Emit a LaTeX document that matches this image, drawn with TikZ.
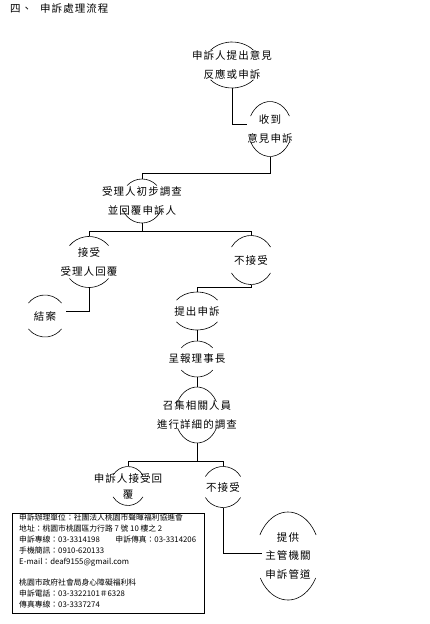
\documentclass[tikz,border=0pt]{standalone}
\usepackage{fontspec}
\setmainfont{Noto Sans CJK TC}
\newfontfamily\cjk{Noto Sans CJK TC}[LetterSpace=10]
\usetikzlibrary{calc}
\tikzset{
  arcline/.style={line width=0.6pt},
  conn/.style={line width=0.8pt},
  flownode/.style={inner sep=0pt, align=center, font=\cjk\fontsize{10.5}{19}\selectfont},
}
\newcommand\nodearcs[5]{%
  \draw[arcline] ([shift={(#4:#2pt and #3pt)}]#1.center) arc[start angle=#4, end angle=180-#4, x radius=#2pt, y radius=#3pt];
  \draw[arcline] ([shift={(180+#5:#2pt and #3pt)}]#1.center) arc[start angle=180+#5, end angle=360-#5, x radius=#2pt, y radius=#3pt];
}
\begin{document}
\begin{tikzpicture}[x=1pt,y=-1pt]
\useasboundingbox (0,0) rectangle (430,624);
% title
\node[anchor=west, inner sep=0, font=\cjk\fontsize{10.5}{12}\selectfont] (t1) at (10,9) {四、};
\node[anchor=west, inner sep=0, font=\cjk\fontsize{10.5}{12}\selectfont] (t2) at (40,9) {申訴處理流程};
% nodes
\node[flownode, minimum width=56pt, minimum height=46pt] (n1) at (232,65) {申訴人提出意見\\反應或申訴};
\node[flownode, minimum width=44pt, minimum height=55pt] (n2) at (270,129) {收到\\意見申訴};
\node[flownode, minimum width=42pt, minimum height=44pt] (n3) at (142,201) {受理人初步調查\\並回覆申訴人};
\node[flownode, minimum width=51pt, minimum height=51pt] (n4) at (89,262) {接受\\受理人回覆};
\node[flownode, minimum width=42pt, minimum height=42pt] (nend) at (45,316) {結案};
\node[flownode, minimum width=46pt, minimum height=49pt] (n5) at (251,260) {不接受};
\node[flownode, minimum width=50pt, minimum height=38pt] (n6) at (197,311) {提出申訴};
\node[flownode, minimum width=40pt, minimum height=36pt] (n7) at (197,359) {呈報理事長};
\node[flownode, minimum width=44pt, minimum height=56pt] (n8) at (197,415) {召集相關人員\\進行詳細的調查};
\node[flownode, minimum width=36pt, minimum height=39pt, font=\cjk\fontsize{10.5}{16}\selectfont] (n9) at (128,486) {申訴人接受回\\覆};
\node[flownode, minimum width=41pt, minimum height=41pt] (n10) at (223,487) {不接受};
\node[flownode, minimum width=64pt, minimum height=88pt, font=\cjk\fontsize{10.5}{18.5}\selectfont] (n11) at (288,556) {提供\\主管機關\\申訴管道};
% arcs
\nodearcs{n1}{28}{23}{40}{40}
\nodearcs{n2}{22}{27.5}{28}{28}
\nodearcs{n3}{21}{22}{45}{22}
\nodearcs{n4}{25.5}{25.5}{40}{40}
\nodearcs{nend}{21}{21}{38}{38}
\nodearcs{n5}{23}{24.5}{32}{32}
\nodearcs{n6}{25}{19}{35}{35}
\nodearcs{n7}{20}{18}{38}{38}
\nodearcs{n8}{22}{28}{28}{28}
\nodearcs{n9}{18}{19.5}{34}{34}
\nodearcs{n10}{20.5}{20.5}{31}{31}
\nodearcs{n11}{32}{44}{28.5}{30}
% connectors
\draw[conn] (n1.south) |- ([yshift=5pt]n2.west);
\draw[conn] (n2.south) -- ++(0,17) -| (n3.north);
\draw[conn] (n3.south) -- ++(0,8);
\draw[conn] (n4.north) |- ([yshift=-8pt]n3.south) -| (n5.north);
\draw[conn] (n4.south) |- ([yshift=5pt]nend.east);
\draw[conn] (n5.south) -- ++(0,3) -| (n6.north);
\draw[conn] (n6.south) -- (n7.north);
\draw[conn] (n7.south) -- (n8.north);
\draw[conn] (n8.south) -- ++(0,18);
\draw[conn] (n9.north) |- ([yshift=-18pt]n8.south) -| (n10.north);
\draw[conn] (n10.south) |- ([shift={(6pt,3pt)}]n11.west);
% info box
\node[draw, line width=1.2pt, minimum width=192pt, minimum height=100pt, anchor=north west, inner sep=0] (box) at (12,513) {};
\node[anchor=north west, align=left, inner sep=0, font=\fontsize{7.8}{10.8}\selectfont] (boxtext) at (19,514) {申訴辦理單位：社團法人桃園市聲暉福利協進會\\
地址：桃園市桃園區力行路 7 號 10 樓之 2\\
申訴專線：03-3314198　　申訴傳真：03-3314206\\
手機簡訊：0910-620133\\
E-mail：deaf9155@gmail.com\\[10.8pt]
桃園市政府社會局身心障礙福利科\\
申訴電話：03-3322101＃6328\\
傳真專線：03-3337274};
\end{tikzpicture}
\end{document}
